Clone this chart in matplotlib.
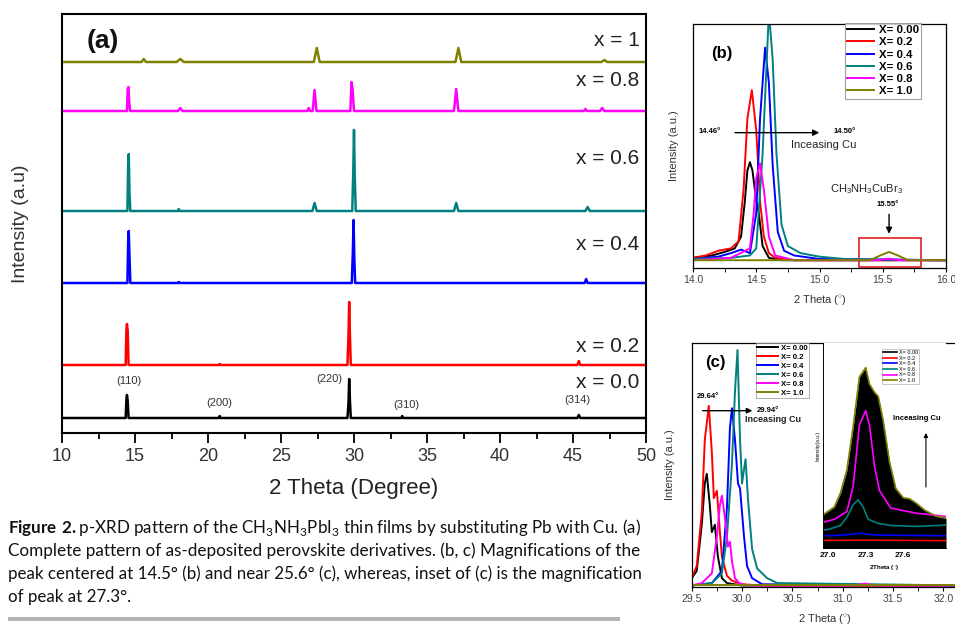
#!/usr/bin/env python3
import numpy as np
import matplotlib
matplotlib.use('Agg')
import matplotlib.pyplot as plt
from matplotlib.ticker import MultipleLocator, FixedLocator, FormatStrFormatter
from matplotlib.patches import Rectangle

plt.rcParams['font.family'] = ['Liberation Sans', 'DejaVu Sans']
plt.rcParams['mathtext.fontset'] = 'custom'
plt.rcParams['mathtext.rm'] = 'Lato'
plt.rcParams['mathtext.bf'] = 'Lato:bold'
plt.rcParams['mathtext.sf'] = 'Liberation Sans'

#-----------------------------------------------------------------------------------------
# colours for the six compositions
names = ['X= 0.00', 'X= 0.2', 'X= 0.4', 'X= 0.6', 'X= 0.8', 'X= 1.0']
colors = ['#000000', '#ff0000', '#0000ff', '#008080', '#ff00ff', '#808000']

# panel (a): full patterns, vertex lists (2theta, intensity above own baseline)
a_labels = ['x = 0.0', 'x = 0.2', 'x = 0.4', 'x = 0.6', 'x = 0.8', 'x = 1']
a_offsets = [15, 68, 150, 222, 322, 371]
a_label_y = [50, 86, 188, 274, 352, 393]
a_x = [
    [10, 14.36, 14.41, 14.45, 14.5, 14.56, 20.75, 20.8, 20.85, 29.55, 29.62, 29.67, 29.72, 29.78, 33.25, 33.3, 33.35, 45.3, 45.4, 45.5, 50],
    [10, 14.36, 14.41, 14.45, 14.5, 14.56, 20.75, 20.8, 20.85, 29.55, 29.62, 29.67, 29.72, 29.78, 45.3, 45.4, 45.5, 50],
    [10, 14.48, 14.53, 14.57, 14.62, 14.68, 17.95, 18.0, 18.05, 29.85, 29.92, 29.97, 30.02, 30.08, 45.8, 45.9, 46.0, 50],
    [10, 14.48, 14.53, 14.57, 14.62, 14.68, 17.95, 18.0, 18.05, 27.15, 27.3, 27.45, 29.88, 29.95, 30.0, 30.05, 30.12, 36.85, 37.0, 37.15, 45.85, 46.0, 46.15, 50],
    [10, 14.45, 14.5, 14.55, 14.6, 14.66, 17.95, 18.1, 18.25, 26.8, 26.9, 27.0, 27.17, 27.3, 27.43, 29.75, 29.83, 29.9, 30.0, 36.85, 37.0, 37.15, 45.75, 45.85, 45.95, 46.85, 47.0, 47.15, 50],
    [10, 15.45, 15.6, 15.75, 17.85, 18.1, 18.35, 27.25, 27.45, 27.65, 36.95, 37.15, 37.35, 46.95, 47.15, 47.35, 50],
]
a_y = [
    [0, 0, 18, 23, 17, 0, 0, 2, 0, 0, 14, 39, 18, 0, 0, 2, 0, 0, 3, 0, 0],
    [0, 0, 35, 41, 34, 0, 0, 1, 0, 0, 28, 63, 30, 0, 0, 4, 0, 0],
    [0, 0, 40, 52, 28, 0, 0, 1, 0, 0, 30, 63, 25, 0, 0, 4, 0, 0],
    [0, 0, 45, 57, 18, 0, 0, 2, 0, 0, 8, 0, 0, 40, 81, 35, 0, 0, 8, 0, 0, 4, 0, 0],
    [0, 0, 22, 24, 10, 0, 0, 3, 0, 0, 3, 0, 0, 21, 0, 0, 29, 22, 0, 0, 22, 0, 0, 2, 0, 0, 3, 0, 0],
    [0, 0, 3, 0, 0, 3, 0, 0, 14, 0, 0, 14, 0, 0, 2, 0, 0],
]
hkl = ['(110)', '(200)', '(220)', '(310)', '(314)']
hkl_x = [14.6, 20.8, 28.3, 33.6, 45.3]
hkl_y = [52, 30, 54, 28, 33]

# panel (b): peak near 14.5 deg
b_x = [
    [14.0, 14.15, 14.25, 14.33, 14.38, 14.41, 14.43, 14.45, 14.47, 14.5, 14.52, 14.55, 14.6, 14.7, 16.0],
    [14.0, 14.1, 14.2, 14.3, 14.36, 14.4, 14.43, 14.465, 14.5, 14.53, 14.56, 14.6, 14.65, 14.8, 16.0],
    [14.0, 14.2, 14.3, 14.38, 14.45, 14.5, 14.53, 14.57, 14.6, 14.63, 14.67, 14.72, 14.8, 15.0, 16.0],
    [14.0, 14.3, 14.45, 14.5, 14.55, 14.6, 14.63, 14.66, 14.7, 14.75, 14.85, 15.0, 15.2, 16.0],
    [14.0, 14.3, 14.45, 14.48, 14.5, 14.53, 14.56, 14.6, 14.65, 14.8, 15.45, 15.55, 15.65, 16.0],
    [14.0, 15.4, 15.48, 15.55, 15.62, 15.7, 16.0],
]
b_y = [
    [0.01, 0.02, 0.035, 0.05, 0.1, 0.25, 0.38, 0.415, 0.38, 0.25, 0.2, 0.06, 0.01, 0.0, 0.0],
    [0.01, 0.02, 0.04, 0.05, 0.08, 0.3, 0.6, 0.72, 0.55, 0.25, 0.1, 0.03, 0.01, 0.0, 0.0],
    [0.005, 0.015, 0.03, 0.045, 0.03, 0.2, 0.6, 0.9, 0.75, 0.4, 0.12, 0.04, 0.02, 0.005, 0.0],
    [0.005, 0.01, 0.02, 0.05, 0.45, 1.05, 0.85, 0.45, 0.15, 0.06, 0.03, 0.015, 0.005, 0.0],
    [0.0, 0.01, 0.05, 0.2, 0.35, 0.41, 0.3, 0.1, 0.02, 0.0, 0.0, 0.006, 0.0, 0.0],
    [0.0, 0.0, 0.02, 0.035, 0.02, 0.0, 0.0],
]

# panel (c): peak near 29.8 deg
c_x = [
    [29.5, 29.55, 29.6, 29.63, 29.65, 29.68, 29.7, 29.73, 29.76, 29.8, 29.85, 30.0, 32.2],
    [29.5, 29.55, 29.6, 29.63, 29.67, 29.7, 29.72, 29.75, 29.78, 29.8, 29.85, 29.9, 30.0, 30.2, 32.2],
    [29.5, 29.7, 29.8, 29.85, 29.88, 29.9, 29.93, 29.96, 29.98, 30.02, 30.05, 30.1, 30.2, 32.2],
    [29.5, 29.7, 29.8, 29.85, 29.9, 29.93, 29.955, 29.98, 30.0, 30.02, 30.035, 30.06, 30.1, 30.15, 30.25, 30.35, 32.2],
    [29.5, 29.6, 29.7, 29.75, 29.78, 29.8, 29.83, 29.86, 29.88, 29.9, 29.93, 29.97, 30.05, 31.12, 31.22, 31.32, 32.2],
    [29.5, 32.2],
]
c_y = [
    [0.03, 0.06, 0.25, 0.42, 0.46, 0.33, 0.22, 0.25, 0.12, 0.03, 0.01, 0.0, 0.0],
    [0.03, 0.08, 0.3, 0.6, 0.74, 0.55, 0.36, 0.39, 0.22, 0.12, 0.04, 0.02, 0.005, 0.0, 0.0],
    [0.0, 0.01, 0.06, 0.32, 0.65, 0.73, 0.6, 0.42, 0.4, 0.2, 0.08, 0.03, 0.005, 0.0],
    [0.0, 0.01, 0.05, 0.2, 0.5, 0.8, 0.97, 0.6, 0.42, 0.48, 0.52, 0.35, 0.15, 0.07, 0.03, 0.01, 0.0],
    [0.0, 0.01, 0.05, 0.2, 0.33, 0.37, 0.28, 0.16, 0.18, 0.1, 0.03, 0.01, 0.0, 0.0, 0.008, 0.0, 0.0],
    [0.0, 0.0],
]

# inset of (c): peak at 27.3 deg (order: red, blue, teal, magenta, olive)
ins_idx = [1, 2, 3, 4, 5]
ins_x = [
    [26.96, 27.3, 27.94],
    [26.96, 27.1, 27.2, 27.25, 27.3, 27.4, 27.94],
    [26.96, 27.0, 27.1, 27.15, 27.2, 27.24, 27.28, 27.32, 27.4, 27.5, 27.7, 27.94],
    [26.96, 27.05, 27.15, 27.2, 27.25, 27.3, 27.33, 27.37, 27.41, 27.5, 27.7, 27.94],
    [26.96, 27.05, 27.1, 27.15, 27.2, 27.25, 27.3, 27.33, 27.37, 27.4, 27.44, 27.49, 27.54, 27.6, 27.65, 27.7, 27.77, 27.86, 27.94],
]
ins_y = [
    [0.037, 0.038, 0.036],
    [0.06, 0.062, 0.068, 0.072, 0.068, 0.063, 0.06],
    [0.088, 0.09, 0.11, 0.15, 0.21, 0.235, 0.2, 0.14, 0.12, 0.11, 0.105, 0.112],
    [0.125, 0.14, 0.178, 0.3, 0.6, 0.67, 0.6, 0.4, 0.28, 0.195, 0.17, 0.154],
    [0.162, 0.2, 0.27, 0.38, 0.59, 0.835, 0.88, 0.8, 0.76, 0.74, 0.62, 0.42, 0.29, 0.245, 0.24, 0.22, 0.185, 0.155, 0.146],
]

caption_lines = [
    r'$\mathbf{Figure\ 2.}$p-XRD pattern of the CH$_3$NH$_3$PbI$_3$ thin films by substituting Pb with Cu. (a)',
    r'Complete pattern of as-deposited perovskite derivatives. (b, c) Magnifications of the',
    r'peak centered at 14.5° (b) and near 25.6° (c), whereas, inset of (c) is the magnification',
    r'of peak at 27.3°.',
]

#-----------------------------------------------------------------------------------------
W, H = 955, 626
fig = plt.figure(figsize=(W/100, H/100), dpi=100)

def px_axes(x0, y0, x1, y1):
    return fig.add_axes([x0/W, 1 - y1/H, (x1 - x0)/W, (y1 - y0)/H])

# ---------------- panel (a)
axa = px_axes(62, 14, 646, 433)
for i in range(6):
    ys = np.array(a_y[i]) + a_offsets[i]
    axa.plot(a_x[i], ys, color=colors[i], lw=1.8, solid_joinstyle='round')
    axa.text(49.55, a_label_y[i], a_labels[i], ha='right', va='center', fontsize=15, color='#222222')
for t, xx, yy in zip(hkl, hkl_x, hkl_y):
    axa.text(xx, yy, t, ha='center', va='center', fontsize=8, color='#333333')
axa.text(11.7, 392, '(a)', fontsize=19, fontweight='bold', va='center', color='#111111')
axa.set_xlim(10, 50)
axa.set_ylim(0, 419)
axa.set_yticks([])
axa.xaxis.set_major_locator(MultipleLocator(5))
axa.xaxis.set_minor_locator(MultipleLocator(2.5))
axa.tick_params(axis='x', which='major', direction='out', length=7, width=1.3, labelsize=13, labelcolor='#333333', pad=4)
axa.tick_params(axis='x', which='minor', direction='out', length=4, width=1.3)
for s in axa.spines.values():
    s.set_linewidth(1.5)
axa.set_xlabel('2 Theta (Degree)', fontsize=16, color='#222222', labelpad=9)
axa.set_ylabel('Intensity (a.u)', fontsize=14, color='#333333', labelpad=24)

# ---------------- panel (b)
axb = px_axes(693, 24, 946, 268)
for i in range(6):
    axb.plot(b_x[i], b_y[i], color=colors[i], lw=1.4, label=names[i])
axb.set_xlim(14.0, 16.0)
axb.set_ylim(-0.033, 1.0)
axb.set_yticks([])
axb.xaxis.set_major_locator(MultipleLocator(0.5))
axb.xaxis.set_minor_locator(MultipleLocator(0.25))
axb.xaxis.set_major_formatter(FormatStrFormatter('%.1f'))
axb.tick_params(axis='x', which='both', direction='out', length=3, labelsize=7.5, labelcolor='#444444', pad=2)
for s in axb.spines.values():
    s.set_linewidth(0.9)
axb.set_xlabel('2 Theta ($^{\\circ}$)', fontsize=8, color='#333333', labelpad=6)
axb.set_ylabel('Intensity (a.u.)', fontsize=8, color='#333333', labelpad=10)
lg = axb.legend(loc='upper left', bbox_to_anchor=(0.6, 1.005), prop={'weight': 'bold', 'size': 8.2},
                frameon=True, fancybox=False, edgecolor='#888888', handlelength=2.4, labelspacing=0.2,
                borderpad=0.2, handletextpad=0.4, borderaxespad=0)
lg.get_frame().set_linewidth(0.8)
axb.text(0.07, 0.86, '(b)', transform=axb.transAxes, fontsize=12, fontweight='bold')
axb.text(14.13, 0.545, '14.46°', fontsize=5.5, fontweight='bold', ha='center', va='center')
axb.annotate('', xy=(15.02, 0.54), xytext=(14.31, 0.54),
             arrowprops=dict(arrowstyle='-|>', color='black', lw=1.0, mutation_scale=9))
axb.text(15.2, 0.545, '14.50°', fontsize=5.5, fontweight='bold', ha='center', va='center')
axb.text(15.03, 0.489, 'Inceasing Cu', fontsize=8, ha='center', va='center', color='#222222')
axb.text(15.37, 0.30, r'CH$_\mathsf{3}$NH$_\mathsf{3}$CuBr$_\mathsf{3}$', fontsize=8, ha='center', va='center', color='#222222')
axb.text(15.54, 0.235, '15.55°', fontsize=5.5, fontweight='bold', ha='center', va='center')
axb.annotate('', xy=(15.55, 0.1), xytext=(15.55, 0.206),
             arrowprops=dict(arrowstyle='-|>', color='black', lw=1.0, mutation_scale=9))
axb.add_patch(Rectangle((15.31, -0.03), 0.49, 0.124, fill=False, edgecolor='#e02020', lw=1.2))

# ---------------- panel (c)
axc = px_axes(691.7, 342.7, 958.5, 586.7)
for i in range(6):
    axc.plot(c_x[i], c_y[i], color=colors[i], lw=1.4, label=names[i])
axc.set_xlim(29.5, 32.15)
axc.set_ylim(-0.005, 1.0)
axc.set_yticks([])
axc.xaxis.set_major_locator(FixedLocator([29.5, 30.0, 30.5, 31.0, 31.5, 32.0]))
axc.xaxis.set_minor_locator(MultipleLocator(0.25))
axc.xaxis.set_major_formatter(FormatStrFormatter('%.1f'))
axc.tick_params(axis='x', which='both', direction='out', length=3, labelsize=7.5, labelcolor='#444444', pad=2)
for s in axc.spines.values():
    s.set_linewidth(0.9)
axc.set_xlabel('2 Theta ($^{\\circ}$)', fontsize=8, color='#333333', labelpad=6)
axc.set_ylabel('Intensity (a.u.)', fontsize=8, color='#333333', labelpad=12)
lg = axc.legend(loc='upper left', bbox_to_anchor=(0.24, 1.0), prop={'weight': 'bold', 'size': 5.6},
                frameon=True, fancybox=False, edgecolor='#888888', handlelength=2.6, labelspacing=0.2,
                borderpad=0.2, handletextpad=0.4, borderaxespad=0)
lg.get_frame().set_linewidth(0.6)
axc.text(0.05, 0.9, '(c)', transform=axc.transAxes, fontsize=12, fontweight='bold')
axc.text(29.66, 0.78, '29.64°', fontsize=5.5, fontweight='bold', ha='center', va='center')
axc.annotate('', xy=(30.13, 0.72), xytext=(29.58, 0.72),
             arrowprops=dict(arrowstyle='-|>', color='black', lw=1.0, mutation_scale=8))
axc.text(30.26, 0.72, '29.94°', fontsize=5.5, fontweight='bold', ha='center', va='center')
axc.text(30.31, 0.682, 'Inceasing Cu', fontsize=6.5, fontweight='bold', ha='center', va='center', color='#222222')

# ---------------- inset of (c)
axi = px_axes(823, 343, 946, 548)
axi.fill_between(ins_x[4], ins_y[4], 0, color='black', lw=0)
for k, i in enumerate(ins_idx):
    axi.plot(ins_x[k], ins_y[k], color=colors[i], lw=1.2)
axi.set_xlim(26.96, 27.94)
axi.set_ylim(0, 1)
axi.set_yticks([])
axi.set_xticks([27.0, 27.3, 27.6])
axi.xaxis.set_major_formatter(FormatStrFormatter('%.1f'))
axi.tick_params(axis='x', direction='in', length=2, labelsize=6, pad=3)
for lab in axi.get_xticklabels():
    lab.set_fontweight('bold')
for s in axi.spines.values():
    s.set_linewidth(0.7)
axi.spines['right'].set_visible(False)
axi.spines['top'].set_visible(False)
axi.set_xlabel('2Theta ($^{\\circ}$)', fontsize=4.5, fontweight='bold', labelpad=3)
axi.set_ylabel('Intensity(a.u.)', fontsize=3.5, labelpad=2)
hdl = [plt.Line2D([], [], color=c, lw=1.2) for c in colors]
lg = axi.legend(hdl, names, loc='upper left', bbox_to_anchor=(0.48, 0.97), prop={'size': 4},
                frameon=True, fancybox=False, edgecolor='#888888', handlelength=2.5, labelspacing=0.1,
                borderpad=0.2, handletextpad=0.3, borderaxespad=0)
lg.get_frame().set_linewidth(0.4)
axi.text(27.71, 0.634, 'Inceasing Cu', fontsize=5.5, fontweight='bold', ha='center', va='center')
axi.annotate('', xy=(27.78, 0.575), xytext=(27.78, 0.284),
             arrowprops=dict(arrowstyle='-|>', color='black', lw=0.8, mutation_scale=6))

# ---------------- caption, fitted line by line to the column width
renderer = fig.canvas.get_renderer()
cap_y = [528, 551, 574, 597]
target = 632.0
fs = 11.0
for j, line in enumerate(caption_lines):
    t = fig.text(8/W, 1 - cap_y[j]/H, line, fontsize=fs, family='Lato', ha='left', va='center', color='#111111')
    if j < 3:
        w = t.get_window_extent(renderer).width
        fs = fs * target / w
        t.set_fontsize(fs)

fig.add_artist(Rectangle((8/W, 1 - 621/H), 612/W, 4/H, transform=fig.transFigure, color='#b4b4b4', lw=0))

fig.savefig('out.png', dpi=100)
